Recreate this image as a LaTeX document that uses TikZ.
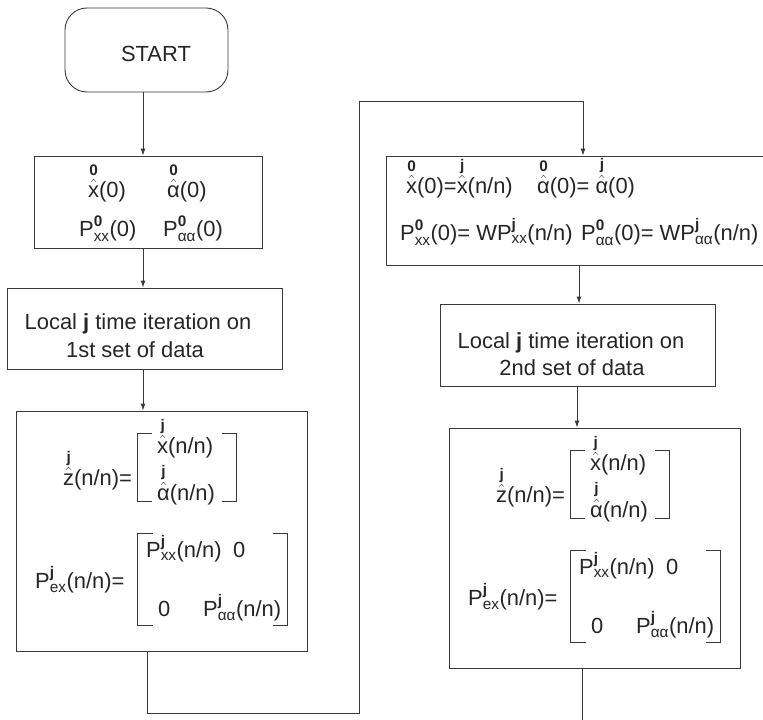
\documentclass[tikz,border=0pt]{standalone}
\usepackage{fix-cm}
\usepackage{amsmath}
\usepackage{fontspec}
\setmainfont{Liberation Sans}
\usetikzlibrary{arrows.meta}
\definecolor{ink}{HTML}{262626}
\definecolor{edge}{HTML}{3A3A3A}
\newcommand\hatx{\hat{\text{x}}}
\newcommand\hata{\hat{\text{α}}}
\newcommand\hatz{\hat{\text{z}}}
\newcommand\ovb[2]{\overset{\textbf{#1}}{#2}}
\newcommand\Psub[2]{\text{P}^{\textbf{#1}}_{\text{#2}}}
\newcommand\estblock[3]{%
\begin{scope}[shift={(#2,#3)}]
\node[txt] (#1z) at (63,485) {$\ovb{j}{\hatz}$(n/n)=};
\draw[ln] (152,433) -- (137,433) -- (137,501) -- (152,501);
\draw[ln] (222,433) -- (236,433) -- (236,501) -- (222,501);
\node[txt] (#1x) at (157,453) {$\ovb{j}{\hatx}$(n/n)};
\node[txt] (#1a) at (157,500) {$\ovb{j}{\hata}$(n/n)};
\node[txt] (#1p) at (35,588) {$\Psub{j}{ex}$(n/n)=};
\draw[ln] (153,533) -- (137,533) -- (137,625) -- (153,625);
\draw[ln] (273,533) -- (287,533) -- (287,625) -- (273,625);
\node[txt] (#1pxx) at (146,557) {$\Psub{j}{xx}$(n/n)};
\node[txt] (#1zeroa) at (233,557) {0};
\node[txt] (#1zerob) at (158,616) {0};
\node[txt] (#1paa) at (203,616) {$\Psub{j}{αα}$(n/n)};
\end{scope}}
\begin{document}
\begin{tikzpicture}[x=1bp,y=-1bp,
  every node/.style={text=ink, font=\fontsize{22}{27}\selectfont},
  box/.style={draw=edge, line width=0.9bp, inner sep=0pt},
  txt/.style={anchor=base west, inner sep=0pt},
  ctxt/.style={anchor=base, inner sep=0pt},
  ln/.style={draw=edge, line width=0.9bp},
  arr/.style={draw=edge, line width=0.9bp, -{Latex[length=7bp,width=5bp]}}]
\fill[white] (0,0) rectangle (763,720);
\useasboundingbox (0,0) rectangle (763,720);
% START
\node[box, rounded corners=22bp, minimum width=163bp, minimum height=84bp] (start) at (146.5,50) {};
\node[ctxt] (startlbl) at (156,62) {START};
% box 1
\node[box, minimum width=228bp, minimum height=92bp] (init1) at (148,202) {};
\node[txt] (i1a) at (88,197) {$\ovb{0}{\hatx}$(0)};
\node[txt] (i1b) at (167,197) {$\ovb{0}{\hata}$(0)};
\node[txt] (i1c) at (79,236) {$\Psub{0}{xx}$(0)};
\node[txt] (i1d) at (163,236) {$\Psub{0}{αα}$(0)};
% box 2
\node[box, minimum width=275bp, minimum height=81bp] (iter1) at (144.5,328.5) {};
\node[ctxt] (it1a) at (138,329) {Local \textbf{j} time iteration on};
\node[ctxt] (it1b) at (135,357) {1st set of data};
% box 3
\node[box, minimum width=291bp, minimum height=240bp] (est1) at (161.5,531) {};
\estblock{ea}{0}{0}
% box 4
\node[box, minimum width=379bp, minimum height=109bp] (init2) at (575.5,210.5) {};
\node[txt] (i2a) at (406,193) {$\ovb{0}{\hatx}$(0)=$\ovb{j}{\hatx}$(n/n)};
\node[txt] (i2b) at (537,193) {$\ovb{0}{\hata}$(0)= $\ovb{j}{\hata}$(0)};
\node[txt] (i2c) at (400,240) {$\Psub{0}{xx}$(0)= W$\Psub{j}{xx}$(n/n)};
\node[txt] (i2d) at (581,240) {$\Psub{0}{αα}$(0)= W$\Psub{j}{αα}$(n/n)};
% box 5
\node[box, minimum width=275bp, minimum height=82bp] (iter2) at (577.5,345) {};
\node[ctxt] (it2a) at (571,348) {Local \textbf{j} time iteration on};
\node[ctxt] (it2b) at (572,375) {2nd set of data};
% box 6
\node[box, minimum width=291bp, minimum height=240bp] (est2) at (594.5,548) {};
\estblock{eb}{433}{17}
% connectors
\coordinate (colA) at (143,0);
\coordinate (colB) at (147,0);
\coordinate (j1) at (147,713);
\coordinate (j2) at (359,713);
\coordinate (j3) at (359,101);
\coordinate (j4) at (583,101);
\coordinate (colC) at (579,0);
\coordinate (colD) at (577,0);
\coordinate (colE) at (582,0);
\coordinate (endpt) at (582,720);
\draw[arr] (start.south -| colA) -- (init1.north -| colA);
\draw[arr] (init1.south -| colA) -- (iter1.north -| colA);
\draw[arr] (iter1.south -| colA) -- (est1.north -| colA);
\draw[arr] (est1.south -| colB) -- (j1) -- (j2) -- (j3) -- (j4) -- (init2.north -| j4);
\draw[arr] (init2.south -| colC) -- (iter2.north -| colC);
\draw[arr] (iter2.south -| colD) -- (est2.north -| colD);
\draw[ln] (est2.south -| colE) -- (endpt);
\end{tikzpicture}
\end{document}
